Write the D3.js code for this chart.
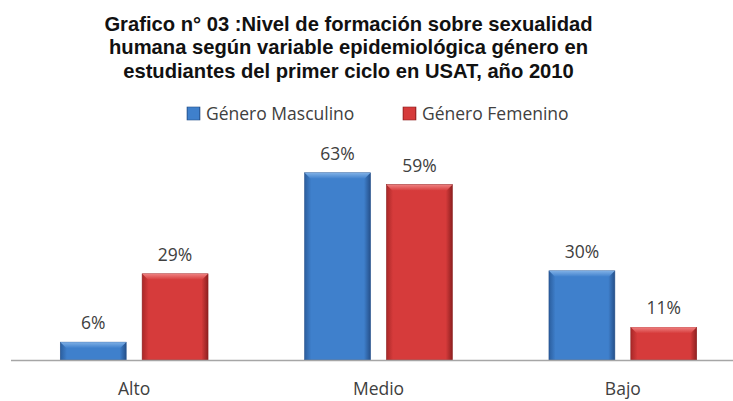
<!DOCTYPE html>
<html><head><meta charset="utf-8">
<script src="https://cdn.jsdelivr.net/npm/d3@7"></script>
<style>body{margin:0;background:#fff;}svg{display:block;}</style>
</head><body>
<script>
const categories = ["Alto", "Medio", "Bajo"];
const seriesNames = ["Género Masculino", "Género Femenino"];
const masculino = [0.06, 0.63, 0.30];
const femenino = [0.29, 0.59, 0.11];
const titleLines = ["Grafico n° 03 :Nivel de formación sobre sexualidad", "humana según variable epidemiológica género en", "estudiantes del primer ciclo en USAT, año 2010"];

const W = 733, H = 401;
const svg = d3.select("body").append("svg").attr("width", W).attr("height", H);
const defs = svg.append("defs");
const palettes = [
  {id:"blue", mid:"#3f80cc", edge:"#2b5e9e", light:"#7fb0e6", dark:"#25508a"},
  {id:"red", mid:"#d63b3b", edge:"#a92828", light:"#ee8080", dark:"#8e2020"}
];
palettes.forEach(p => {
  const g = defs.append("linearGradient").attr("id", "g-" + p.id).attr("x1", 0).attr("x2", 1).attr("y1", 0).attr("y2", 0);
  g.append("stop").attr("offset", "0%").attr("stop-color", p.edge);
  g.append("stop").attr("offset", "10%").attr("stop-color", p.mid);
  g.append("stop").attr("offset", "90%").attr("stop-color", p.mid);
  g.append("stop").attr("offset", "100%").attr("stop-color", p.dark);
  const t = defs.append("linearGradient").attr("id", "t-" + p.id).attr("x1", 0).attr("x2", 0).attr("y1", 0).attr("y2", 1);
  t.append("stop").attr("offset", "0%").attr("stop-color", p.light);
  t.append("stop").attr("offset", "100%").attr("stop-color", p.mid);
});

const font = "'Open Sans', sans-serif";
const fs = "17.5px";

// Title
svg.append("text").attr("x", 348.5).attr("y", 31).attr("text-anchor", "middle")
  .style("font-family", "'Liberation Sans', Arial, sans-serif").style("font-weight", "bold")
  .style("font-size", "20.2px").attr("fill", "#111")
  .selectAll("tspan").data(titleLines).join("tspan")
  .attr("x", 348.5).attr("dy", (d, i) => i === 0 ? 0 : 23.3).text(d => d);

// Scales
const x0 = d3.scaleBand().domain(categories).range([12, 745]).paddingInner(0).paddingOuter(0);
const x1 = d3.scaleBand().domain(seriesNames).range([0, x0.bandwidth()]).paddingInner(0.195).paddingOuter(0.59);
const y = d3.scaleLinear().domain([0, 0.7]).range([360, 152]);

const data = categories.map((c, i) => ({cat: c, vals: [masculino[i], femenino[i]]}));

const groups = svg.selectAll("g.grp").data(data).join("g")
  .attr("transform", d => `translate(${x0(d.cat)},0)`);

groups.each(function(d) {
  const g = d3.select(this);
  d.vals.forEach((v, si) => {
    const p = palettes[si];
    const bx = x1(seriesNames[si]), bw = x1.bandwidth();
    const by = y(v), bh = y(0) - y(v);
    g.append("rect").attr("x", bx).attr("y", by).attr("width", bw).attr("height", bh)
      .attr("fill", `url(#g-${p.id})`).attr("stroke", p.dark).attr("stroke-width", 0.6);
    const bev = Math.min(6, bh / 3);
    g.append("polygon")
      .attr("points", [[bx, by], [bx + bw, by], [bx + bw - 6, by + bev], [bx + 6, by + bev]].map(q => q.join(",")).join(" "))
      .attr("fill", `url(#t-${p.id})`);
    g.append("text").attr("x", bx + bw / 2).attr("y", by - 13).attr("text-anchor", "middle")
      .style("font-family", font).style("font-size", fs).attr("fill", "#404040")
      .text(d3.format(".0%")(v));
  });
});

// Axis baseline
const xAxis = svg.append("g").attr("transform", `translate(0,${y(0)})`)
  .call(d3.axisBottom(x0).tickSize(0).tickPadding(23));
xAxis.select(".domain").attr("stroke", "#a6a6a6").attr("stroke-width", 1.3).attr("d", "M11,0.5H733");
xAxis.selectAll("text").style("font-family", font).style("font-size", fs).attr("fill", "#404040");

// Legend
const legendX = [187, 403];
const lg = svg.selectAll("g.leg").data(seriesNames).join("g")
  .attr("transform", (d, i) => `translate(${legendX[i]},107)`);
lg.append("rect").attr("width", 13).attr("height", 13)
  .attr("fill", (d, i) => `url(#g-${palettes[i].id})`).attr("stroke", (d, i) => palettes[i].dark).attr("stroke-width", 0.6);
lg.append("text").attr("x", 19).attr("y", 12.5)
  .style("font-family", font).style("font-size", fs).attr("fill", "#404040")
  .text(d => d);
</script>
</body></html>
